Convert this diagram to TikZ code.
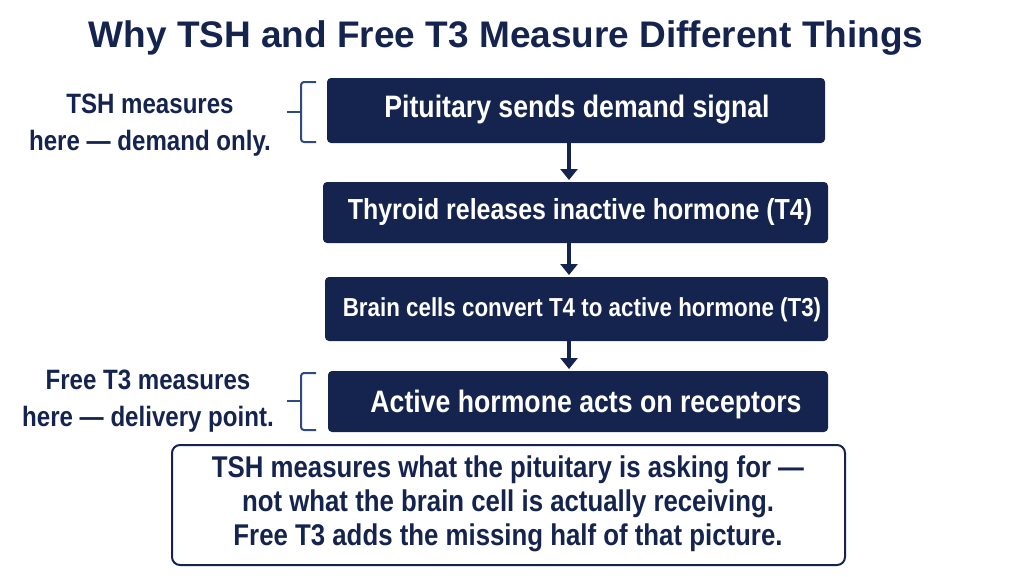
\documentclass[tikz,border=0pt]{standalone}
\usepackage{fontspec}
\setmainfont{Liberation Sans}
\newfontfamily\narrowf[FakeStretch=0.86]{Liberation Sans}
\usetikzlibrary{arrows.meta}
\definecolor{navy}{HTML}{15244F}
\definecolor{brkc}{HTML}{2F4A80}
\begin{document}
\begin{tikzpicture}[x=1pt,y=-1pt,
  stepbox/.style={fill=navy,rounded corners=4pt},
  steptxt/.style={text=white,font=\narrowf\fontsize{#1}{30}\selectfont\bfseries},
  lab/.style={text=navy,align=center,font=\narrowf\fontsize{28}{37}\selectfont\bfseries},
  arr/.style={navy,line width=3.5pt,-{Triangle[length=11pt,width=17pt]}},
  brk/.style={brkc,line width=2pt,rounded corners=3pt}]
\useasboundingbox (0,0) rectangle (1024,576);
\node[text=navy,font=\fontsize{37}{42}\selectfont\bfseries] (title) at (506,38) {Why TSH and Free T3 Measure Different Things};
\path[stepbox] (327,78) rectangle (825,143); \node[steptxt=31] (b1) at (577,110) {Pituitary sends demand signal};
\path[stepbox] (323,182) rectangle (828,243); \node[steptxt=29] (b2) at (580,212) {Thyroid releases inactive hormone (T4)};
\path[stepbox] (325,277) rectangle (828,341); \node[steptxt=26] (b3) at (582,310) {Brain cells convert T4 to active hormone (T3)};
\path[stepbox] (328,371) rectangle (828,432); \node[steptxt=31] (b4) at (586,404) {Active hormone acts on receptors};
\coordinate (a1s) at (569,143); \coordinate (a1e) at (569,180);
\coordinate (a2s) at (569,243); \coordinate (a2e) at (569,275);
\coordinate (a3s) at (569,341); \coordinate (a3e) at (569,369);
\draw[arr] (a1s) -- (a1e); \draw[arr] (a2s) -- (a2e); \draw[arr] (a3s) -- (a3e);
\draw[navy,line width=2pt,rounded corners=8pt] (172,445) rectangle (845,565);
\node[lab,font=\narrowf\fontsize{30}{34}\selectfont\bfseries] (note) at (508,504) {TSH measures what the pituitary is asking for —\\not what the brain cell is actually receiving.\\Free T3 adds the missing half of that picture.};
\node[lab] (l1) at (150,125) {TSH measures\\here — demand only.};
\node[lab] (l2) at (148,401) {Free T3 measures\\here — delivery point.};
\draw[brk] (316,82) -- (301,82) -- (301,142) -- (316,142);
\draw[brk] (301,112) -- (287,112);
\draw[brk] (316,373) -- (301,373) -- (301,430) -- (316,430);
\draw[brk] (301,401) -- (287,401);
\end{tikzpicture}
\end{document}
